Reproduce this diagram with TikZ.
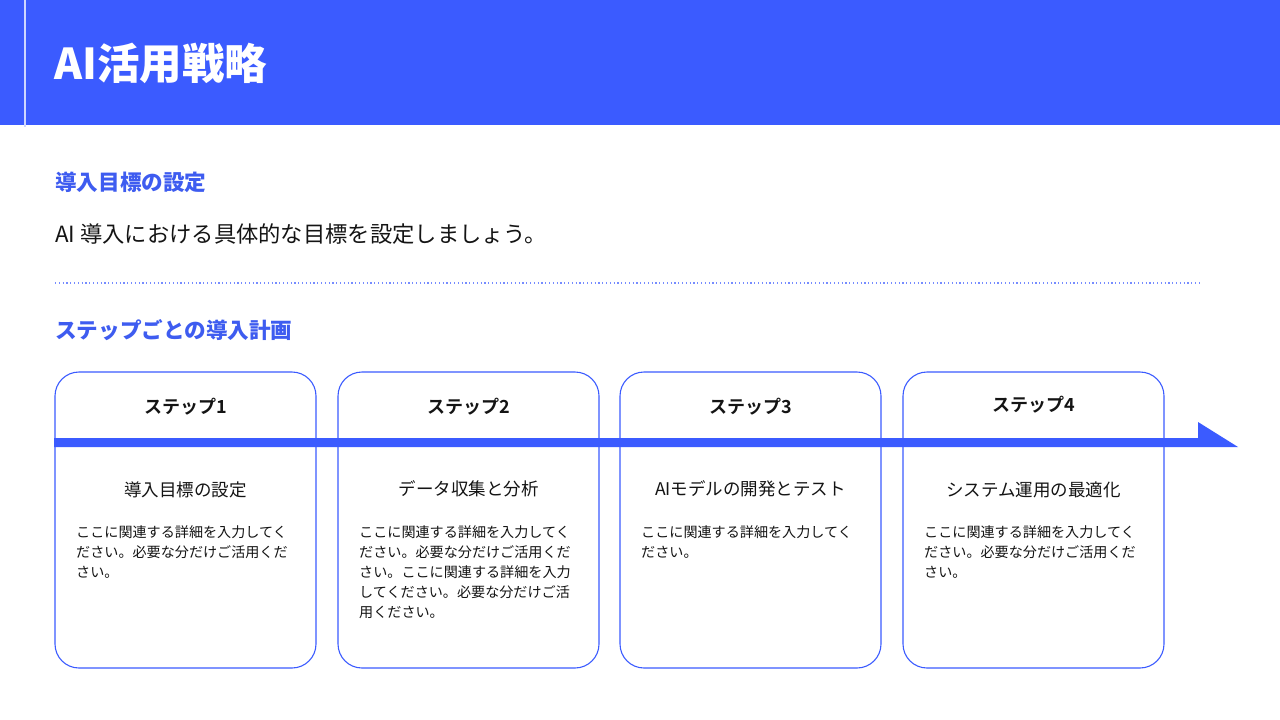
\documentclass[tikz,border=0pt]{standalone}
\usepackage{fontspec}
\setmainfont{Noto Sans CJK JP}[BoldFont={* Bold}]
\newfontfamily\heavyfont{Noto Sans CJK JP Black}
\definecolor{mainblue}{RGB}{59,91,255}
\definecolor{headblue}{RGB}{62,92,240}
\definecolor{txt}{RGB}{20,20,20}
\begin{document}
\begin{tikzpicture}[x=1pt,y=-1pt,
  card/.style={draw=mainblue,line width=1.1pt,rounded corners=24pt},
  steptitle/.style={font=\bfseries\fontsize{18}{22}\selectfont,text=txt},
  subtitle/.style={font=\fontsize{17.5}{21}\selectfont,text=txt},
  body/.style={font=\fontsize{14.1}{20}\selectfont,text=txt,align=left,anchor=north west,inner sep=0pt},
  sechead/.style={font=\heavyfont\fontsize{21.6}{25}\selectfont,text=headblue,anchor=west,inner sep=0pt}]
\useasboundingbox (0,0) rectangle (1280,720);
\fill[white] (0,0) rectangle (1280,720);
% header
\fill[mainblue] (0,0) rectangle (1280,125);
\draw[white!75!mainblue,line width=1.5pt] (25,0) -- (25,127);
\node[anchor=west,inner sep=0pt,text=white,font=\heavyfont\fontsize{42.5}{48}\selectfont] (title) at (54,63) {AI活用戦略};
% sections
\node[sechead] (h1) at (55,182) {導入目標の設定};
\node[anchor=west,inner sep=0pt,text=txt,font=\fontsize{22.3}{26}\selectfont] (lead) at (55,234) {AI 導入における具体的な目標を設定しましょう。};
\draw[mainblue!70,line width=1.2pt,dash pattern=on 1.2pt off 2.6pt] (55,283) -- (1200,283);
\node[sechead] (h2) at (55,330) {ステップごとの導入計画};
% cards
\foreach \i/\x in {1/55,2/338,3/620,4/903}{
  \draw[card] (\x,372) rectangle ++(261,296);
}
% arrow
\coordinate (as) at (54,438);
\coordinate (ae) at (1238,447);
\fill[mainblue] (as) -- (1198,438) -- (1198,422) -- (ae) -- (54,447) -- cycle;
% step titles
\node[steptitle] (s1) at (185.5,407) {ステップ1};
\node[steptitle] (s2) at (468.5,407) {ステップ2};
\node[steptitle] (s3) at (750.5,407) {ステップ3};
\node[steptitle] (s4) at (1033.5,405) {ステップ4};
% subtitles
\node[subtitle] (t1) at (185.5,490) {導入目標の設定};
\node[subtitle] (t2) at (468.5,489) {データ収集と分析};
\node[subtitle] (t3) at (750.5,489) {AIモデルの開発とテスト};
\node[subtitle] (t4) at (1033.5,490) {システム運用の最適化};
% bodies
\node[body] (b1) at (76,525) {ここに関連する詳細を入力してく\\ださい。必要な分だけご活用くだ\\さい。};
\node[body] (b2) at (359,525) {ここに関連する詳細を入力してく\\ださい。必要な分だけご活用くだ\\さい。ここに関連する詳細を入力\\してください。必要な分だけご活\\用ください。};
\node[body] (b3) at (641,525) {ここに関連する詳細を入力してく\\ださい。};
\node[body] (b4) at (924,525) {ここに関連する詳細を入力してく\\ださい。必要な分だけご活用くだ\\さい。};
\end{tikzpicture}
\end{document}
